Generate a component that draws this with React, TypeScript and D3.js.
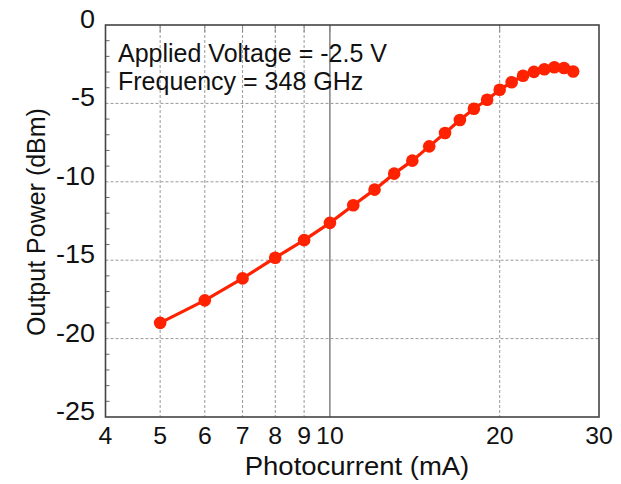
import React from "react";
import * as d3 from "d3";

const currents = [5, 6, 7, 8, 9, 10, 11, 12, 13, 14, 15, 16, 17, 18, 19, 20, 21, 22, 23, 24, 25, 26, 27];
const powers = [-19.0, -17.56, -16.16, -14.84, -13.72, -12.62, -11.5, -10.5, -9.48, -8.65, -7.74, -6.89, -6.06, -5.34, -4.77, -4.13, -3.65, -3.24, -2.99, -2.82, -2.69, -2.74, -2.97];
const xTicks = [4, 5, 6, 7, 8, 9, 10, 20, 30];
const xGrid = [5, 6, 7, 8, 9, 20];
const yTicks = [0, -5, -10, -15, -20, -25];
const yGrid = [-5, -10, -15, -20];
const annotations = ["Applied Voltage = -2.5 V", "Frequency = 348 GHz"];

export default function App() {
  const W = 621, H = 484;
  const L = 105.5, R = 599, T = 25, B = 417;
  const x = d3.scaleLog().domain([4, 30]).range([L, R]);
  const y = d3.scaleLinear().domain([-25, 0]).range([B, T]);
  const pts = currents.map((c, i) => [c, powers[i]] as [number, number]);
  const line = d3.line<[number, number]>().x(d => x(d[0])).y(d => y(d[1]));
  const minor = d3.range(-24, 0, 1).filter(v => v % 5 !== 0);
  const font = "Liberation Sans, Arial, sans-serif";
  const sx = 1.08;
  return (
    <svg width={W} height={H} style={{ position: "absolute", left: 0, top: 0, background: "#fff" }} fontFamily={font}>
      <rect x={0} y={0} width={W} height={H} fill="#fff" />
      {xGrid.map(v => (
        <line key={"xg" + v} x1={x(v)} x2={x(v)} y1={T} y2={B} stroke="#999" strokeWidth={1} strokeDasharray="3,2" />
      ))}
      <line x1={x(10)} x2={x(10)} y1={T} y2={B} stroke="#444" strokeWidth={1} />
      {yGrid.map(v => (
        <line key={"yg" + v} x1={L} x2={R} y1={y(v)} y2={y(v)} stroke="#999" strokeWidth={1} strokeDasharray="3,2" />
      ))}
      {minor.map(v => (
        <line key={"ym" + v} x1={L} x2={L + 4} y1={y(v)} y2={y(v)} stroke="#666" strokeWidth={1} />
      ))}
      {xTicks.filter(v => v > 4 && v < 30).map(v => (
        <line key={"xt" + v} x1={x(v)} x2={x(v)} y1={T} y2={T + 7} stroke="#888" strokeWidth={1} />
      ))}
      <rect x={L} y={T} width={R - L} height={B - T} fill="none" stroke="#444" strokeWidth={1.6} />
      <path d={line(pts) || ""} fill="none" stroke="#ff2200" strokeWidth={3.2} />
      {pts.map((p, i) => (
        <circle key={"pt" + i} cx={x(p[0])} cy={y(p[1])} r={6.3} fill="#ff2200" />
      ))}
      {yTicks.map(v => (
        <text key={"yl" + v} transform={`translate(95,${y(v) + 3}) scale(${sx},1)`} textAnchor="end" fontSize={25} fill="#111">{v}</text>
      ))}
      {xTicks.map(v => (
        <text key={"xl" + v} transform={`translate(${x(v)},444) scale(${sx},1)`} textAnchor="middle" fontSize={23} fill="#111">{v}</text>
      ))}
      <text transform={`translate(357,475) scale(1.1,1)`} textAnchor="middle" fontSize={25} fill="#111">Photocurrent (mA)</text>
      <text transform={`translate(45,222) rotate(-90)`} textAnchor="middle" fontSize={25} fill="#111">Output Power (dBm)</text>
      {annotations.map((t, i) => (
        <text key={"an" + i} x={118} y={62 + i * 27.5} fontSize={25} fill="#111">{t}</text>
      ))}
    </svg>
  );
}
